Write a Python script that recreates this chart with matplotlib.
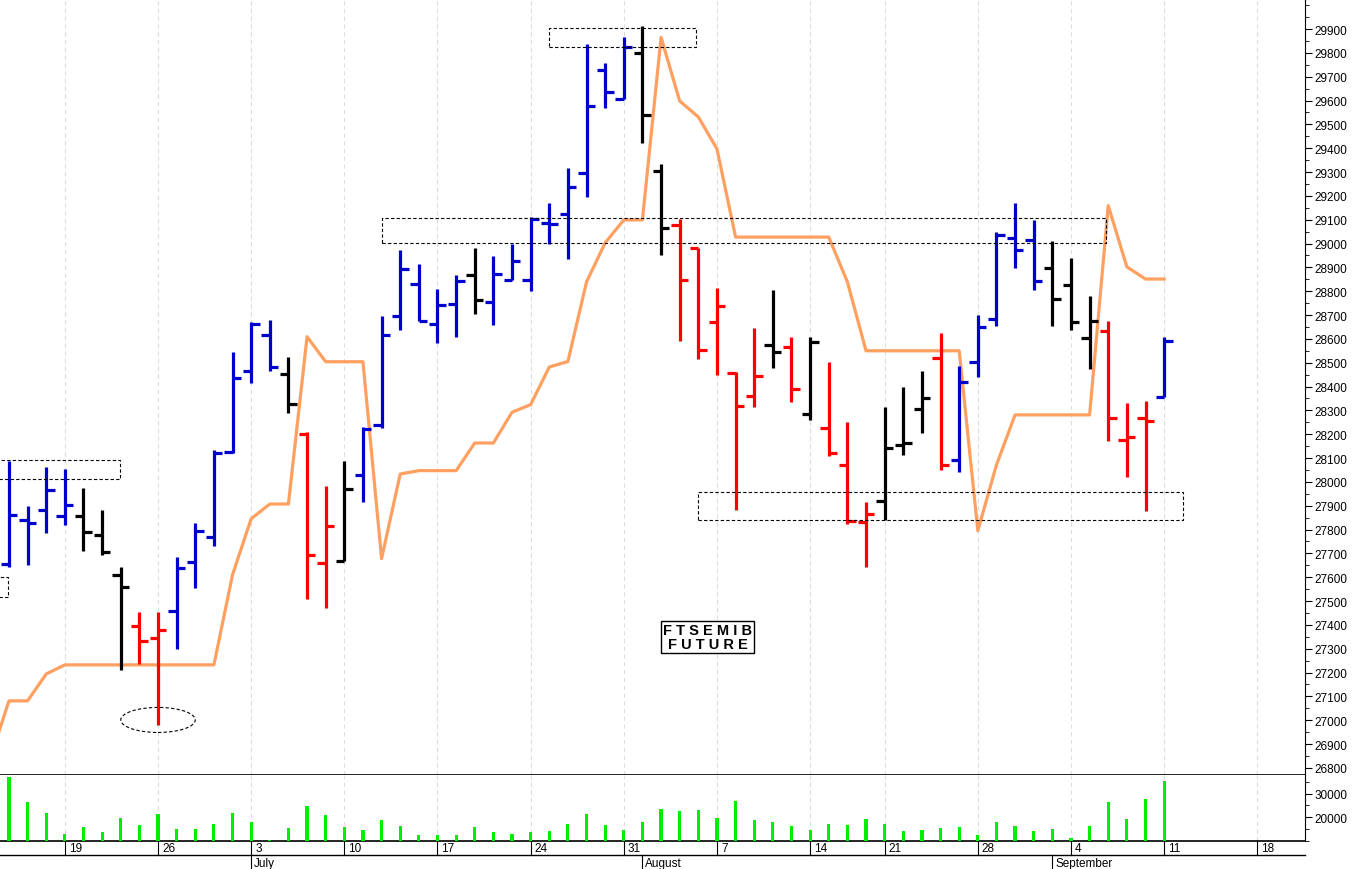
import matplotlib.pyplot as plt
from matplotlib.patches import Rectangle, Ellipse
from matplotlib.ticker import MultipleLocator, FixedLocator

plt.rcParams['font.family'] = ['Liberation Sans', 'DejaVu Sans']

# OHLC per trading day (index 0 = 14 June, 15 Aug holiday skipped)
opens = [27656, 27840, 27882, 27858, 27858, 27777, 27610, 27395, 27345, 27458,
         27664, 27769, 28125, 28465, 28616, 28453, 28201, 27660, 27666, 28029,
         28240, 28696, 28831, 28663, 28746, 28870, 28754, 28847, 28847, 29088,
         29124, 29296, 29728, 29606, 29798, 29303, 29078, 28981, 28671, 28457,
         28360, 28574, 28566, 28285, 28226, 28071, 27833, 27920, 28155, 28306,
         28520, 28092, 28503, 28684, 29023, 29015, 28897, 28826, 28604, 28634,
         28176, 28268, 28357]
highs = [28089, 27898, 28064, 28054, 27974, 27883, 27644, 27456, 27454, 27686,
         27828, 28135, 28545, 28672, 28681, 28525, 28209, 27984, 28089, 28232,
         28698, 28971, 28914, 28810, 28866, 28982, 28946, 28998, 29111, 29171,
         29315, 29837, 29757, 29865, 29913, 29332, 29103, 28981, 28813, 28461,
         28646, 28805, 28608, 28609, 28504, 28251, 27916, 28316, 28400, 28465,
         28625, 28488, 28700, 29048, 29170, 29100, 29011, 28939, 28781, 28675,
         28331, 28339, 28609]
lows = [27642, 27651, 27784, 27819, 27711, 27693, 27210, 27236, 26980, 27299,
        27555, 27731, 28121, 28415, 28467, 28290, 27509, 27471, 27666, 27915,
        28224, 28638, 28675, 28581, 28608, 28704, 28658, 28847, 28799, 28998,
        28934, 29195, 29569, 29606, 29420, 28950, 28591, 28516, 28448, 27882,
        28314, 28478, 28335, 28260, 28110, 27823, 27643, 27840, 28113, 28205,
        28050, 28043, 28440, 28655, 28897, 28805, 28654, 28637, 28474, 28172,
        28021, 27878, 28356]
closes = [27861, 27828, 27966, 27903, 27791, 27706, 27559, 27332, 27379, 27639,
          27794, 28121, 28436, 28662, 28482, 28327, 27693, 27816, 27970, 28222,
          28617, 28895, 28677, 28742, 28842, 28763, 28872, 28927, 29103, 29083,
          29239, 29577, 29637, 29826, 29538, 29067, 28848, 28553, 28739, 28318,
          28444, 28546, 28390, 28588, 28122, 27837, 27865, 28142, 28163, 28352,
          28071, 28419, 28650, 29036, 28973, 28842, 28768, 28671, 28676, 28268,
          28188, 28256, 28591]
bar_colors = list("bbbbkkkrrbbbbbbkrrkbbbbbbkbbbbbbbbkkrrrrrkrkrrrkkkrbbbbbkkkrrrb")

# orange line, starting one day before the first bar
line_vals = [26840, 27081, 27081, 27194, 27232, 27232, 27232, 27232, 27232, 27232,
             27232, 27232, 27232, 27610, 27845, 27907, 27907, 28609, 28504, 28504,
             28504, 27678, 28033, 28047, 28047, 28047, 28163, 28163, 28292, 28324,
             28482, 28505, 28839, 29003, 29099, 29099, 29865, 29598, 29531, 29397,
             29027, 29027, 29027, 29027, 29027, 29027, 28839, 28550, 28550, 28550,
             28550, 28550, 28550, 27795, 28071, 28281, 28281, 28281, 28281, 28281,
             29159, 28902, 28851, 28851]

volumes = [36900, 26400, 21900, 13000, 15700, 13700, 19700, 16700, 21200, 15100,
           15100, 17200, 21600, 17900, 10300, 15500, 24600, 21000, 15700, 14800,
           19000, 16300, 12500, 12500, 12500, 15700, 13700, 13000, 13600, 14200,
           17200, 21200, 16700, 14800, 18100, 23400, 22500, 23000, 19700, 26700,
           19000, 18100, 16300, 14800, 17200, 16700, 19300, 17200, 14200, 14800,
           15500, 15700, 12700, 18100, 16300, 14200, 15100, 11200, 16300, 26400,
           19400, 27900, 35400]

monday_idx = [3, 8, 13, 18, 23, 28, 33, 38, 43, 47, 52, 57, 62, 67]
monday_lbl = ['19', '26', '3', '10', '17', '24', '31', '7', '14', '21', '28', '4', '11', '18']
month_idx = [13, 34, 56]
month_lbl = ['July', 'August', 'September']

cmap = {'b': '#0000cc', 'r': '#ff0000', 'k': '#000000'}
n = len(opens)
idx = list(range(n))
cols = [cmap[c] for c in bar_colors]

W, H = 1352, 870
fig = plt.figure(figsize=(W / 100, H / 100), dpi=100)
right = 1305 / W
ax = fig.add_axes([0, 1 - 776 / H, right, 776 / H])
axv = fig.add_axes([0, 1 - 842 / H, right, 66 / H], sharex=ax)

xmin, xmax = -0.48, 69.56
ax.set_xlim(xmin, xmax)

for a in (ax, axv):
    for m in monday_idx:
        a.axvline(m, color='#dddddd', lw=0.8, ls=(0, (4, 3)), zorder=0)

ax.vlines(idx, lows, highs, colors=cols, lw=2.3, zorder=3)
ax.hlines(opens, [i - 0.45 for i in idx], idx, colors=cols, lw=2.3, zorder=3)
ax.hlines(closes, idx, [i + 0.45 for i in idx], colors=cols, lw=2.3, zorder=3)
ax.plot(range(-1, n), line_vals, color='#ffa060', lw=2.3, zorder=2)

box = dict(fill=False, ls=(0, (3, 2)), lw=0.8, ec='black', zorder=4)
ax.add_patch(Rectangle((-1.0, 28012), 6.96, 80, **box))
ax.add_patch(Rectangle((-1.0, 27517), 0.95, 84, **box))
ax.add_patch(Rectangle((29.0, 29824), 7.9, 80, **box))
ax.add_patch(Rectangle((20.0, 29002), 38.9, 105, **box))
ax.add_patch(Rectangle((37.0, 27840), 26.0, 118, **box))
ax.add_patch(Ellipse((8.0, 27001), 4.0, 105, **box))

ax.text(37.5, 27350, 'F T S E M I B\nF U T U R E', ha='center', va='center', fontsize=10.5,
        fontweight='bold', linespacing=1.0,
        bbox=dict(boxstyle='square,pad=0.15', fc='white', ec='black', lw=1))

for a in (ax, axv):
    a.yaxis.tick_right()
    a.tick_params(axis='y', direction='out', length=5, labelsize=8.5, pad=2)
    a.tick_params(axis='y', which='minor', length=3)
    a.tick_params(axis='x', bottom=False, labelbottom=False)
    a.spines['top'].set_visible(False)
    a.spines['left'].set_visible(False)
ax.yaxis.set_major_locator(FixedLocator(list(range(26800, 30000, 100))))
ax.yaxis.set_minor_locator(MultipleLocator(50))
ax.set_ylim(26770, 30026)
ax.spines['bottom'].set_linewidth(1.2)

axv.bar(idx, [v - 10000 for v in volumes], bottom=10000, width=0.17, color='#00ee00', zorder=3)
axv.set_ylim(10000, 37800)
axv.set_yticks([20000, 30000])
axv.yaxis.set_minor_locator(MultipleLocator(5000))
axv.spines['bottom'].set_linewidth(1.2)

# date strip below the volume panel
def xfig(i):
    return right * (i - xmin) / (xmax - xmin)

strip = fig.add_axes([0, 0, 1, 28 / H])
strip.set_xlim(0, 1)
strip.set_ylim(0, 28)
strip.axis('off')
strip.axhline(14, xmin=0, xmax=right, color='black', lw=1)
for m, lbl in zip(monday_idx, monday_lbl):
    strip.plot([xfig(m), xfig(m)], [14, 28], color='black', lw=0.8)
    strip.text(xfig(m) + 0.003, 21, lbl, ha='left', va='center', fontsize=8.5)
for m, lbl in zip(month_idx, month_lbl):
    x0 = xfig(m)
    strip.plot([x0, x0], [0, 14], color='black', lw=0.8)
    strip.text(x0 + 0.002, 6, lbl, ha='left', va='center', fontsize=8.5)

fig.savefig('out.png', dpi=100)
